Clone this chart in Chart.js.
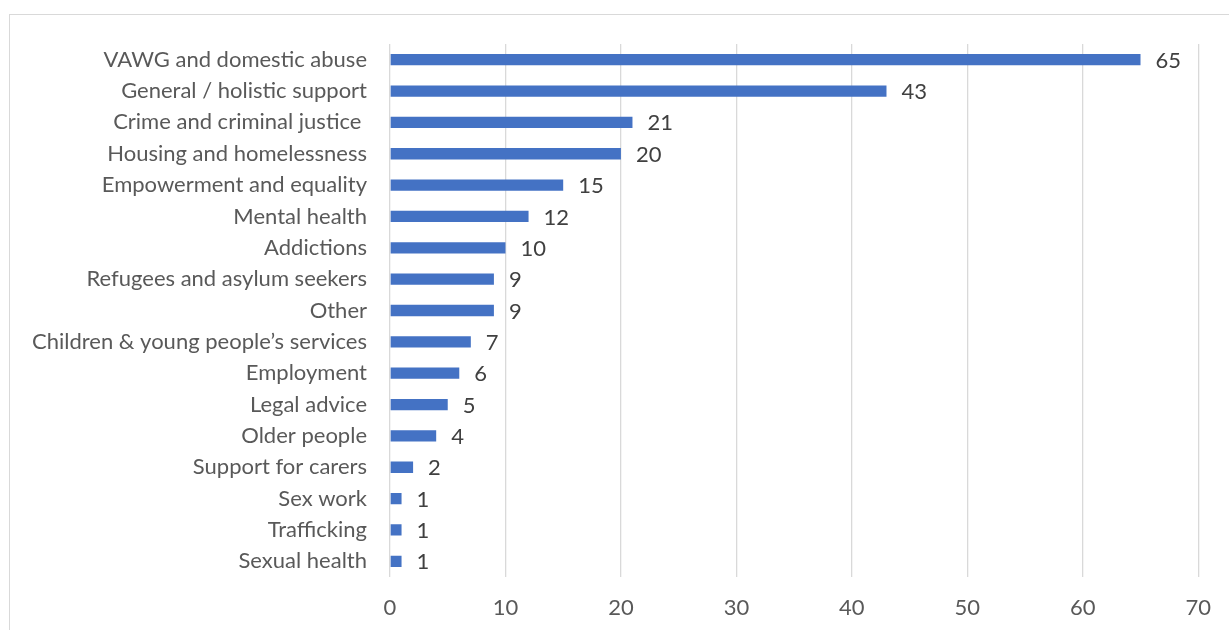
<!DOCTYPE html>
<html>
<head>
<meta charset="utf-8">
<script src="https://cdn.jsdelivr.net/npm/chart.js@4"></script>
<style>
  html, body { margin: 0; padding: 0; background: #ffffff; overflow: hidden; }
  #wrap { position: relative; width: 1229px; height: 630px; }
  #frame { position: absolute; left: 9px; top: 14px; width: 1400px; height: 800px;
           border: 1.5px solid #d9d9d9; box-sizing: border-box; }
  canvas { position: absolute; left: 0; top: 0; }
</style>
</head>
<body>
<div id="wrap">
  <div id="frame"></div>
  <canvas id="chart" width="1229" height="630"></canvas>
</div>
<script>
// Service areas and number of organisations in each
const categories = [
  'VAWG and domestic abuse',
  'General / holistic support',
  'Crime and criminal justice ',
  'Housing and homelessness',
  'Empowerment and equality',
  'Mental health',
  'Addictions',
  'Refugees and asylum seekers',
  'Other',
  'Children & young people\u2019s services',
  'Employment',
  'Legal advice',
  'Older people',
  'Support for carers',
  'Sex work',
  'Trafficking',
  'Sexual health'
];
const counts = [65, 43, 21, 20, 15, 12, 10, 9, 9, 7, 6, 5, 4, 2, 1, 1, 1];
const xTicks = [0, 10, 20, 30, 40, 50, 60, 70];

const FONT = 'Lato, "Open Sans", sans-serif';
const SIZE = 22;

// Writes each bar's value just past its end
const valueLabels = {
  id: 'valueLabels',
  afterDatasetsDraw(chart) {
    const ctx = chart.ctx;
    const meta = chart.getDatasetMeta(0);
    const xScale = chart.scales.x;
    ctx.save();
    ctx.font = SIZE + 'px ' + FONT;
    ctx.fillStyle = '#404040';
    ctx.textAlign = 'left';
    ctx.textBaseline = 'middle';
    meta.data.forEach((bar, i) => {
      const v = chart.data.datasets[0].data[i];
      ctx.fillText(String(v), xScale.getPixelForValue(v) + 15, bar.y + 1);
    });
    ctx.restore();
  }
};

new Chart(document.getElementById('chart'), {
  type: 'bar',
  data: {
    labels: categories,
    datasets: [{
      data: counts,
      backgroundColor: '#4472C4',
      borderWidth: 0,
      barPercentage: 0.36,
      categoryPercentage: 1.0
    }]
  },
  plugins: [valueLabels],
  options: {
    indexAxis: 'y',
    responsive: false,
    animation: false,
    layout: { padding: { left: 0, right: 29, top: 44, bottom: 0 } },
    plugins: { legend: { display: false }, tooltip: { enabled: false } },
    scales: {
      x: {
        min: 0,
        max: 70,
        afterBuildTicks(axis) { axis.ticks = xTicks.map(v => ({ value: v })); },
        afterFit(axis) { axis.height = 53; },
        grid: { color: '#d9d9d9', lineWidth: 1.3, drawTicks: false },
        border: { display: false },
        ticks: { color: '#595959', font: { family: FONT, size: SIZE }, padding: 18 }
      },
      y: {
        afterFit(axis) { axis.width = 390; },
        grid: { display: false, drawTicks: false },
        border: { display: false },
        ticks: { color: '#595959', font: { family: FONT, size: SIZE }, padding: 23, autoSkip: false }
      }
    }
  }
});
</script>
</body>
</html>
